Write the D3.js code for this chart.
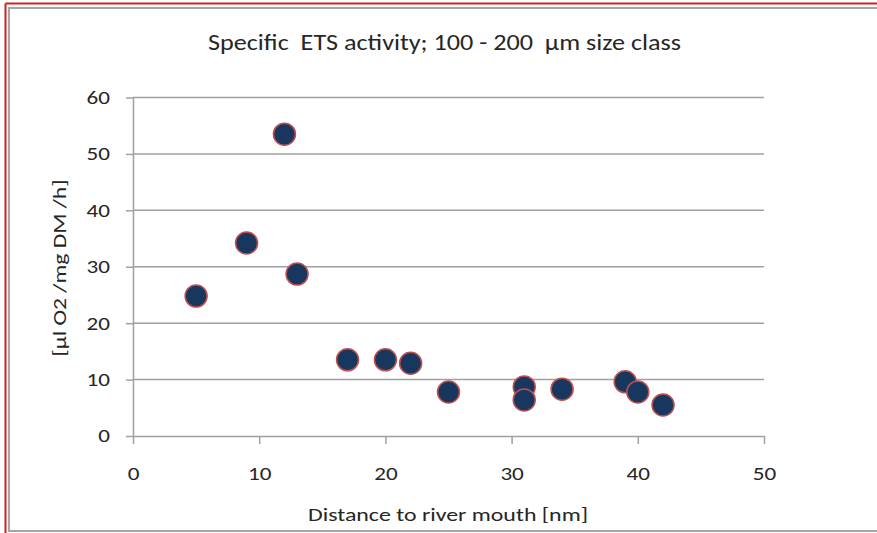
<!DOCTYPE html>
<html><head><meta charset="utf-8">
<script src="https://cdn.jsdelivr.net/npm/d3@7"></script>
<style>html,body{margin:0;padding:0;background:#fff;}svg{display:block;}</style>
</head><body>
<svg id="c" width="877" height="533"></svg>
<script>
const distance = [5, 9, 12, 13, 17, 20, 22, 25, 31, 31, 34, 39, 40, 42];
const activity = [24.8, 34.2, 53.5, 28.7, 13.5, 13.5, 12.9, 7.8, 8.7, 6.4, 8.3, 9.6, 7.8, 5.5];
const xTicks = [0, 10, 20, 30, 40, 50];
const yTicks = [0, 10, 20, 30, 40, 50, 60];
const titleText = "Specific\u00a0 ETS activity; 100 - 200\u00a0 \u00b5m size class";
const xLabel = "Distance to river mouth [nm]";
const yLabel = "[\u00b5l O2 /mg DM /h]";

const svg = d3.select("#c");
const font = "Carlito, 'Liberation Sans Narrow', 'Open Sans', sans-serif";
const ink = "#262626";

// stretch a text horizontally by factor k (reference glyphs are wide)
function stretch(sel, k) {
  sel.each(function() {
    const w = this.getComputedTextLength();
    d3.select(this).attr("textLength", w * k).attr("lengthAdjust", "spacingAndGlyphs");
  });
}
function fitTo(sel, width) {
  sel.attr("textLength", width).attr("lengthAdjust", "spacingAndGlyphs");
}

// frame
svg.append("line").attr("x1",5.5).attr("x2",877).attr("y1",3.5).attr("y2",3.5).attr("stroke","#d21f1f").attr("stroke-width",2);
svg.append("line").attr("x1",5.5).attr("x2",5.5).attr("y1",3.5).attr("y2",533).attr("stroke","#d21f1f").attr("stroke-width",2);
svg.append("path").attr("d","M877,8 H9 V531 H877").attr("fill","none").attr("stroke","#a6a6a6").attr("stroke-width",2);

const x = d3.scaleLinear().domain([0,50]).range([133,764]);
const y = d3.scaleLinear().domain([0,60]).range([436,97.5]);

// gridlines
svg.append("g").selectAll("line").data(yTicks.filter(d=>d>0)).join("line")
  .attr("x1",133).attr("x2",764).attr("y1",d=>y(d)).attr("y2",d=>y(d))
  .attr("stroke","#a0a0a0").attr("stroke-width",1.5);

const gx = svg.append("g").attr("transform","translate(0,436)")
  .call(d3.axisBottom(x).tickValues(xTicks).tickSize(8).tickSizeOuter(0).tickPadding(23));
const gy = svg.append("g").attr("transform","translate(133,0)")
  .call(d3.axisLeft(y).tickValues(yTicks).tickSize(7).tickSizeOuter(0).tickPadding(16));
[gx,gy].forEach(g=>{
  g.select(".domain").attr("stroke","#a0a0a0").attr("stroke-width",1.5);
  g.selectAll(".tick line").attr("stroke","#a0a0a0").attr("stroke-width",1.5);
  g.selectAll(".tick text").attr("font-family",font).attr("font-size",18.5).attr("fill",ink)
    .call(stretch, 1.25);
});

// points
svg.append("g").selectAll("circle").data(distance.map((d,i)=>[d,activity[i]])).join("circle")
  .attr("cx",d=>x(d[0])).attr("cy",d=>y(d[1])).attr("r",11)
  .attr("fill","#17375e").attr("stroke","#c0504d").attr("stroke-width",1.5);

// texts
svg.append("text").attr("x",444.5).attr("y",50).attr("text-anchor","middle")
  .attr("font-family",font).attr("font-size",22).attr("fill",ink).text(titleText)
  .call(fitTo, 473);
svg.append("text").attr("x",448).attr("y",521).attr("text-anchor","middle")
  .attr("font-family",font).attr("font-size",19).attr("fill",ink).text(xLabel)
  .call(fitTo, 280);
svg.append("text").attr("transform","translate(66,268) rotate(-90)").attr("text-anchor","middle")
  .attr("font-family",font).attr("font-size",19).attr("fill",ink).text(yLabel)
  .call(fitTo, 177);
</script>
</body></html>
